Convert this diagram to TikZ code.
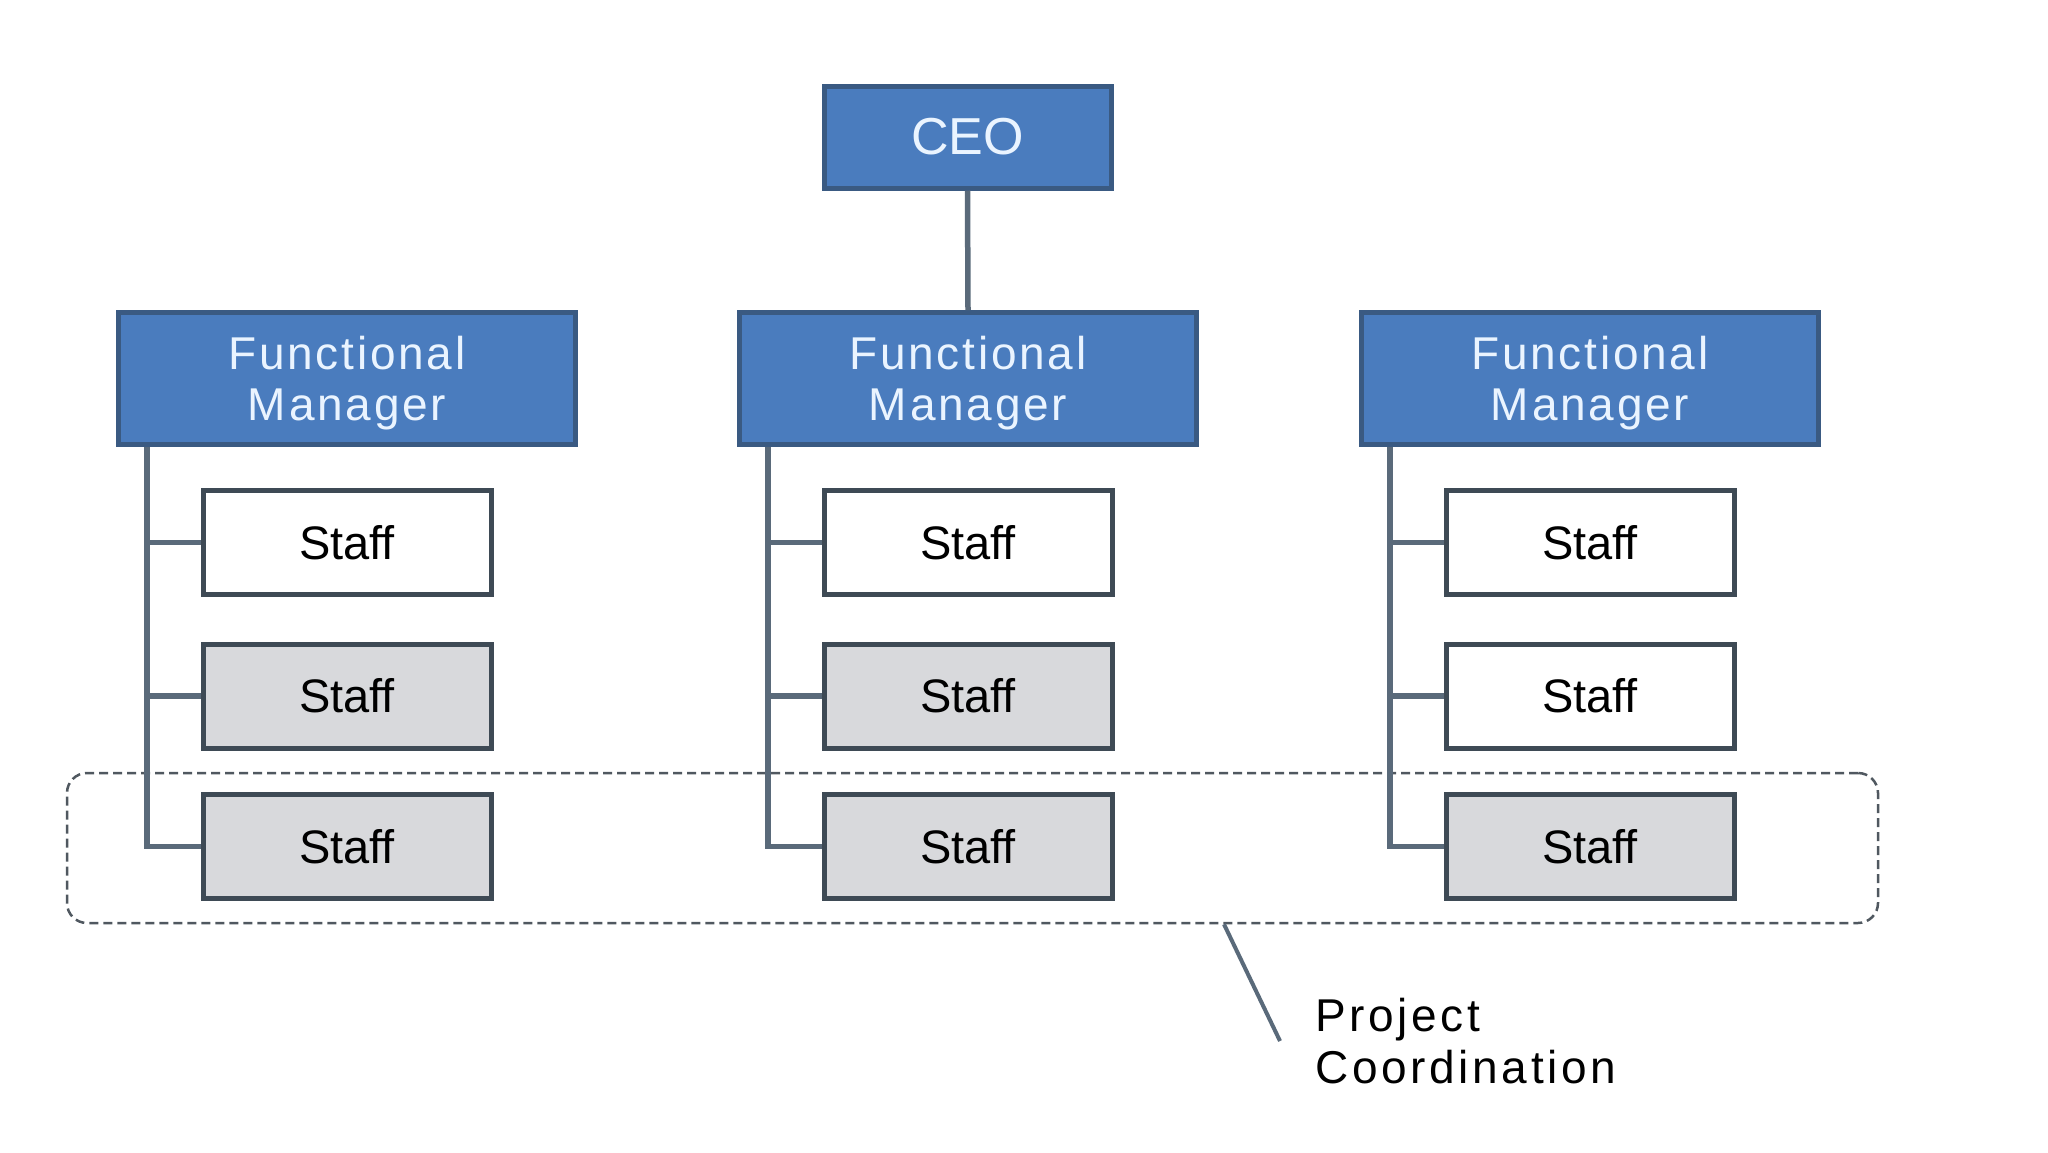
\documentclass[tikz,border=0pt]{standalone}
\usepackage{fontspec}
\setmainfont{Liberation Sans}
\newfontfamily\spacedfont[LetterSpace=6]{Liberation Sans}
\newfontfamily\widefont[LetterSpace=8]{Liberation Sans}
\definecolor{fmfill}{HTML}{4A7CBE}
\definecolor{fmedge}{HTML}{3A5A82}
\definecolor{fmtext}{HTML}{EAF4FF}
\definecolor{staffedge}{HTML}{3E4A55}
\definecolor{greyfill}{HTML}{D8D9DC}
\definecolor{connc}{HTML}{5A6A7A}
\definecolor{dashc}{HTML}{505860}
\begin{document}
\begin{tikzpicture}[x=1pt,y=-1pt,
  fmbox/.style={draw=fmedge, fill=fmfill, line width=5pt, minimum width=457pt, minimum height=132pt,
    text=fmtext, align=center, font=\spacedfont\fontsize{46}{51}\selectfont, inner sep=0pt, text depth=0pt},
  ceobox/.style={draw=fmedge, fill=fmfill, line width=5pt, minimum width=287pt, minimum height=102pt,
    text=fmtext, font=\fontsize{52}{56}\selectfont, inner sep=0pt},
  staffbox/.style={draw=staffedge, fill=white, line width=5pt, minimum width=288pt, minimum height=104pt,
    text=black, font=\fontsize{47}{50}\selectfont, inner sep=0pt},
  greybox/.style={staffbox, fill=greyfill},
  conn/.style={draw=connc, line width=5.5pt},
  groupbox/.style={draw=dashc, dashed, dash pattern=on 9pt off 5pt, line width=2.5pt, rounded corners=20pt,
    minimum width=1811pt, minimum height=150pt, inner sep=0pt},
  leader/.style={draw=connc, line width=4pt},
  pclabel/.style={align=left, anchor=north west, inner sep=0pt, font=\widefont\fontsize{46}{52}\selectfont, text=black}
]
\useasboundingbox (0,0) rectangle (2048,1152);
\fill[white] (0,0) rectangle (2048,1152);

% group (behind)
\node[groupbox] (group) at (972.5,848) {};

% CEO
\node[ceobox] (ceo) at (967.5,137) {CEO};

% Functional managers
\node[fmbox] (fm1) at (347,378.5) {Functional\\Manager};
\node[fmbox] (fm2) at (968,378.5) {Functional\\Manager};
\node[fmbox] (fm3) at (1590,378.5) {Functional\\Manager};

% Staff
\node[staffbox] (s11) at (347,542.5) {Staff};
\node[greybox]  (s12) at (347,696) {Staff};
\node[greybox]  (s13) at (347,846.5) {Staff};
\node[staffbox] (s21) at (968,542.5) {Staff};
\node[greybox]  (s22) at (968,696) {Staff};
\node[greybox]  (s23) at (968,846.5) {Staff};
\node[staffbox] (s31) at (1590,542.5) {Staff};
\node[staffbox] (s32) at (1590,696) {Staff};
\node[greybox]  (s33) at (1590,846.5) {Staff};

% connectors
\draw[conn] (ceo.south) -- (fm2.north);
\foreach \c in {1,2,3}{
  \draw[conn] ([xshift=31pt]fm\c.south west) |- (s\c3.west);
  \draw[conn] ([xshift=31pt]fm\c.south west |- s\c1.west) -- (s\c1.west);
  \draw[conn] ([xshift=31pt]fm\c.south west |- s\c2.west) -- (s\c2.west);
}

% Project coordination label and leader
\node[pclabel] (pc) at (1315,998) {Project\\Coordination};
\coordinate (leadend) at (1280,1041);
\draw[leader] ([xshift=251.5pt]group.south) -- (leadend);
\end{tikzpicture}
\end{document}
